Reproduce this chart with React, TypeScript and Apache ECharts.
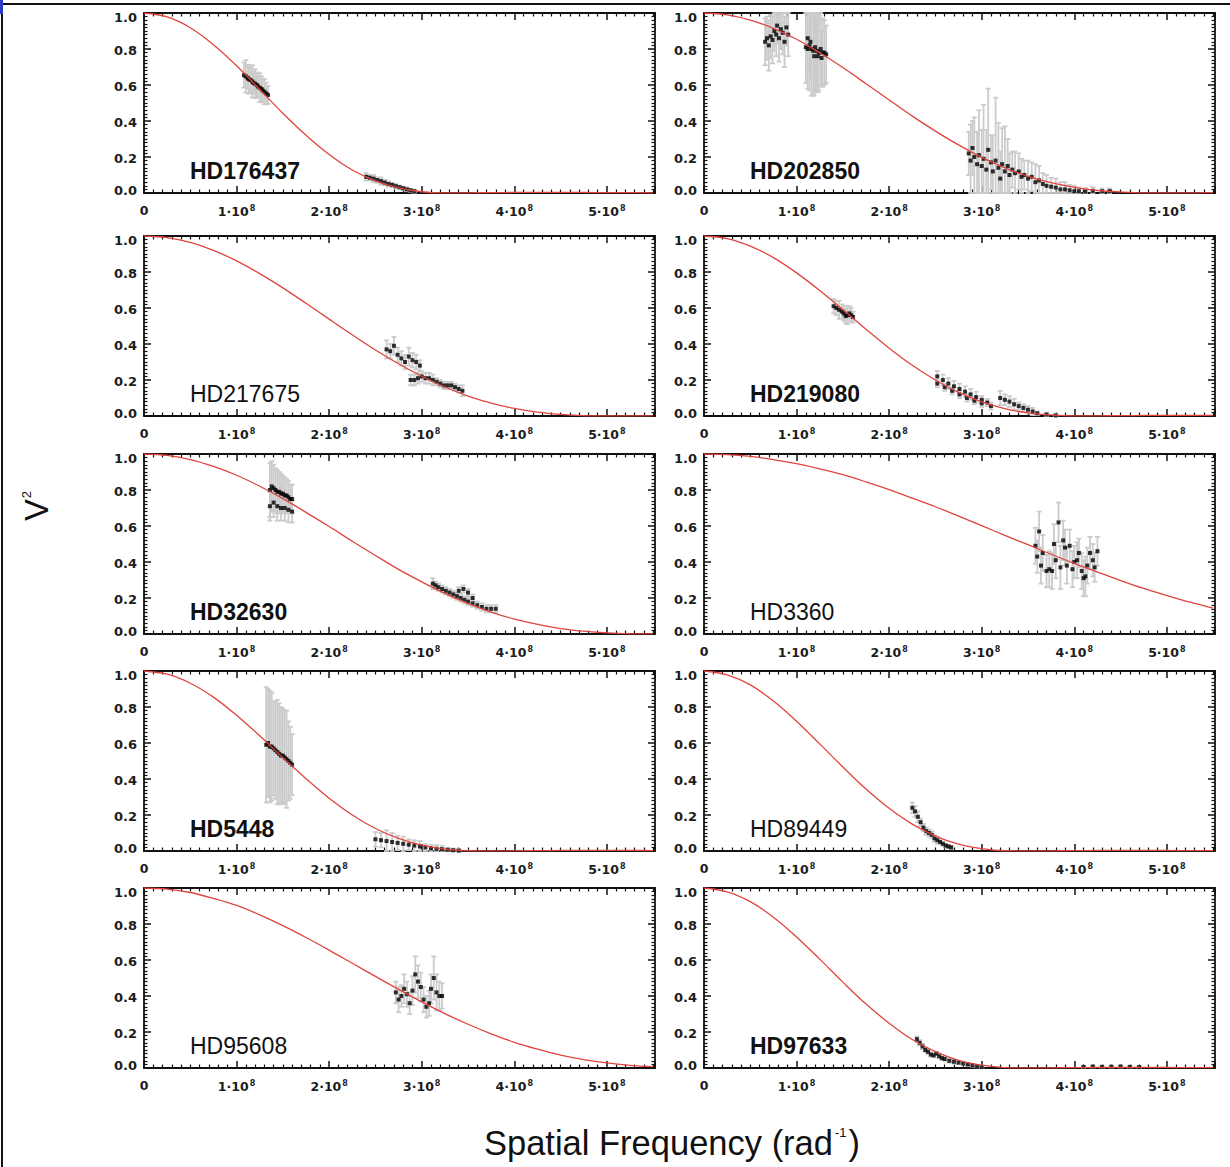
import React, { useEffect, useRef } from "react";
import * as echarts from "echarts";

// Spatial frequencies are in units of 1e8 rad^-1 throughout.
const FREQ_GRID = [0, 0.25, 0.5, 0.75, 1, 1.25, 1.5, 1.75, 2, 2.25, 2.5, 2.75, 3, 3.25, 3.5, 3.75, 4, 4.25, 4.5, 4.75, 5, 5.25, 5.5];
const X_TICK_LABELS = ["0", "1", "2", "3", "4", "5"];
const Y_TICKS = [0, 0.2, 0.4, 0.6, 0.8, 1.0];

// ---- fitted disk model curves (V^2 on FREQ_GRID) ----
const HD176437_MODEL = [1, 0.978, 0.918, 0.824, 0.707, 0.575, 0.443, 0.321, 0.214, 0.128, 0.067, 0.028, 0.007, 0.0005, 0.001, 0.002, 0.003, 0.003, 0.003, 0.003, 0.002, 0.002, 0.001];
const HD202850_MODEL = [1, 0.99, 0.961, 0.915, 0.854, 0.779, 0.697, 0.607, 0.517, 0.427, 0.344, 0.267, 0.198, 0.14, 0.093, 0.057, 0.031, 0.014, 0.0055, 0.001, 0.001, 0.001, 0.002];
const HD217675_MODEL = [1, 0.991, 0.964, 0.92, 0.862, 0.791, 0.712, 0.626, 0.538, 0.451, 0.367, 0.29, 0.221, 0.161, 0.111, 0.072, 0.042, 0.021, 0.0085, 0.0019, 0.0002, 0.0005, 0.001];
const HD219080_MODEL = [1, 0.986, 0.944, 0.88, 0.795, 0.697, 0.591, 0.482, 0.377, 0.282, 0.2, 0.131, 0.079, 0.041, 0.017, 0.0057, 0.0005, 0.001, 0.002, 0.003, 0.003, 0.003, 0.003];
const HD32630_MODEL = [1, 0.992, 0.969, 0.931, 0.882, 0.821, 0.752, 0.676, 0.597, 0.515, 0.436, 0.359, 0.29, 0.226, 0.17, 0.122, 0.083, 0.054, 0.03, 0.0155, 0.006, 0.0012, 0.0002];
const HD3360_MODEL = [1, 0.997, 0.987, 0.969, 0.946, 0.918, 0.885, 0.845, 0.802, 0.755, 0.707, 0.655, 0.602, 0.548, 0.496, 0.443, 0.392, 0.344, 0.297, 0.253, 0.214, 0.177, 0.144];
const HD5448_MODEL = [1, 0.982, 0.932, 0.855, 0.754, 0.64, 0.519, 0.402, 0.293, 0.2, 0.125, 0.07, 0.032, 0.01, 0.0015, 0.0005, 0.001, 0.002, 0.003, 0.003, 0.003, 0.003, 0.002];
const HD89449_MODEL = [1, 0.979, 0.923, 0.833, 0.721, 0.595, 0.467, 0.344, 0.237, 0.149, 0.083, 0.038, 0.013, 0.0015, 0.0005, 0.001, 0.002, 0.003, 0.003, 0.003, 0.003, 0.002, 0.002];
const HD95608_MODEL = [1, 0.994, 0.975, 0.942, 0.903, 0.851, 0.791, 0.725, 0.655, 0.582, 0.509, 0.437, 0.367, 0.302, 0.243, 0.19, 0.143, 0.105, 0.072, 0.047, 0.028, 0.015, 0.0065];
const HD97633_MODEL = [1, 0.979, 0.924, 0.838, 0.728, 0.605, 0.477, 0.355, 0.249, 0.158, 0.091, 0.043, 0.016, 0.0025, 0.0005, 0.001, 0.002, 0.003, 0.003, 0.003, 0.003, 0.002, 0.002];

// ---- measured squared visibilities ----
const HD176437_FREQ = [1.08, 1.1, 1.12, 1.13, 1.15, 1.17, 1.18, 1.2, 1.22, 1.23, 1.25, 1.27, 1.28, 1.3, 1.32, 1.34, 2.4, 2.44, 2.48, 2.52, 2.56, 2.6, 2.64, 2.68, 2.72, 2.76, 2.8, 2.84, 2.88, 2.92];
const HD176437_VIS2 = [0.655, 0.648, 0.64, 0.632, 0.628, 0.62, 0.612, 0.607, 0.6, 0.592, 0.585, 0.578, 0.57, 0.563, 0.553, 0.545, 0.09, 0.085, 0.08, 0.072, 0.066, 0.058, 0.05, 0.045, 0.038, 0.032, 0.026, 0.02, 0.015, 0.01];
const HD176437_ERR = [0.07, 0.09, 0.06, 0.08, 0.07, 0.09, 0.06, 0.08, 0.07, 0.06, 0.08, 0.07, 0.06, 0.07, 0.06, 0.05, 0.02, 0.015, 0.02, 0.015, 0.02, 0.015, 0.015, 0.012, 0.012, 0.01, 0.01, 0.01, 0.008, 0.008];

const HD202850_FREQ = [0.66, 0.68, 0.7, 0.72, 0.74, 0.76, 0.78, 0.79, 0.81, 0.83, 0.85, 0.87, 0.89, 0.91, 1.1, 1.12, 1.14, 1.16, 1.18, 1.2, 1.22, 1.24, 1.26, 1.28, 1.3, 1.32, 1.12, 1.15, 1.19, 1.23, 1.27, 2.86, 2.88, 2.9, 2.92, 2.95, 2.97, 3.0, 3.02, 3.05, 3.07, 3.1, 3.12, 3.15, 3.18, 3.2, 3.22, 3.25, 3.28, 3.3, 3.33, 3.36, 3.4, 3.43, 3.46, 3.5, 3.54, 3.58, 3.62, 3.66, 3.7, 3.75, 3.8, 3.85, 3.9, 3.95, 4.0, 4.05, 4.12, 4.2, 4.3, 4.38];
const HD202850_VIS2 = [0.84, 0.86, 0.82, 0.87, 0.85, 0.9, 0.88, 0.93, 0.86, 0.91, 0.89, 0.84, 0.92, 0.88, 0.81, 0.8, 0.82, 0.8, 0.79, 0.81, 0.79, 0.78, 0.8, 0.78, 0.78, 0.77, 0.86, 0.84, 0.76, 0.76, 0.75, 0.22, 0.18, 0.25, 0.2, 0.16, 0.21, 0.15, 0.19, 0.13, 0.24, 0.17, 0.12, 0.18, 0.14, 0.08, 0.16, 0.12, 0.15, 0.1, 0.13, 0.11, 0.12, 0.09, 0.1, 0.08, 0.09, 0.06, 0.07, 0.05, 0.04, 0.035, 0.03, 0.02, 0.02, 0.015, 0.01, 0.01, 0.008, 0.012, 0.01, 0.01];
const HD202850_ERR = [0.13, 0.12, 0.14, 0.12, 0.13, 0.11, 0.12, 0.1, 0.13, 0.11, 0.12, 0.14, 0.1, 0.12, 0.2, 0.22, 0.25, 0.26, 0.24, 0.25, 0.22, 0.21, 0.2, 0.19, 0.18, 0.16, 0.18, 0.2, 0.22, 0.2, 0.15, 0.12, 0.2, 0.15, 0.22, 0.18, 0.25, 0.2, 0.3, 0.22, 0.34, 0.15, 0.2, 0.35, 0.25, 0.15, 0.2, 0.25, 0.15, 0.12, 0.1, 0.12, 0.1, 0.1, 0.08, 0.1, 0.08, 0.1, 0.08, 0.06, 0.06, 0.05, 0.05, 0.04, 0.04, 0.03, 0.03, 0.02, 0.02, 0.02, 0.015, 0.015];

const HD217675_FREQ = [2.62, 2.66, 2.7, 2.74, 2.78, 2.82, 2.86, 2.9, 2.94, 2.98, 2.88, 2.92, 2.96, 3.0, 3.04, 3.08, 3.12, 3.16, 3.2, 3.24, 3.28, 3.32, 3.36, 3.4, 3.44];
const HD217675_VIS2 = [0.37, 0.36, 0.39, 0.34, 0.32, 0.3, 0.33, 0.31, 0.3, 0.28, 0.2, 0.2, 0.21, 0.22, 0.21, 0.21, 0.2, 0.19, 0.18, 0.17, 0.17, 0.17, 0.16, 0.15, 0.14];
const HD217675_ERR = [0.05, 0.04, 0.05, 0.04, 0.04, 0.04, 0.05, 0.04, 0.04, 0.03, 0.03, 0.03, 0.03, 0.03, 0.03, 0.03, 0.03, 0.02, 0.02, 0.02, 0.02, 0.02, 0.02, 0.02, 0.03];

const HD219080_FREQ = [1.4, 1.43, 1.46, 1.49, 1.51, 1.53, 1.55, 1.57, 1.59, 1.61, 2.52, 2.58, 2.64, 2.7, 2.76, 2.82, 2.88, 2.94, 3.0, 3.06, 2.52, 2.6, 2.68, 2.76, 2.84, 2.92, 3.0, 3.1, 3.2, 3.25, 3.3, 3.35, 3.4, 3.45, 3.5, 3.55, 3.6, 3.7, 3.8];
const HD219080_VIS2 = [0.61, 0.6, 0.59, 0.58, 0.57, 0.555, 0.56, 0.57, 0.56, 0.55, 0.22, 0.2, 0.18, 0.165, 0.15, 0.135, 0.12, 0.105, 0.09, 0.075, 0.18, 0.16, 0.14, 0.12, 0.1, 0.085, 0.07, 0.055, 0.1, 0.09, 0.08, 0.065, 0.055, 0.045, 0.035, 0.025, 0.015, 0.008, 0.003];
const HD219080_ERR = [0.04, 0.04, 0.05, 0.04, 0.04, 0.04, 0.05, 0.04, 0.04, 0.03, 0.03, 0.03, 0.03, 0.03, 0.03, 0.03, 0.03, 0.03, 0.02, 0.02, 0.02, 0.02, 0.02, 0.02, 0.02, 0.02, 0.02, 0.02, 0.04, 0.03, 0.03, 0.03, 0.02, 0.02, 0.02, 0.02, 0.01, 0.01, 0.01];

const HD32630_FREQ = [1.36, 1.38, 1.4, 1.42, 1.44, 1.46, 1.48, 1.5, 1.52, 1.54, 1.56, 1.58, 1.6, 1.36, 1.4, 1.44, 1.48, 1.52, 1.56, 1.6, 3.12, 3.15, 3.18, 3.22, 3.26, 3.3, 3.34, 3.38, 3.42, 3.46, 3.5, 3.55, 3.6, 3.65, 3.7, 3.75, 3.8, 3.4, 3.45, 3.5, 3.55];
const HD32630_VIS2 = [0.8, 0.82, 0.81, 0.8, 0.79, 0.79, 0.78, 0.78, 0.77, 0.77, 0.76, 0.75, 0.75, 0.71, 0.73, 0.71, 0.7, 0.7, 0.69, 0.68, 0.28, 0.27, 0.26, 0.25, 0.24, 0.23, 0.22, 0.21, 0.2, 0.19, 0.18, 0.17, 0.16, 0.15, 0.14, 0.14, 0.14, 0.24, 0.25, 0.23, 0.2];
const HD32630_ERR = [0.15, 0.14, 0.13, 0.12, 0.12, 0.11, 0.11, 0.1, 0.1, 0.09, 0.09, 0.08, 0.08, 0.08, 0.08, 0.08, 0.07, 0.07, 0.07, 0.06, 0.03, 0.02, 0.02, 0.02, 0.02, 0.02, 0.02, 0.02, 0.02, 0.02, 0.02, 0.02, 0.02, 0.02, 0.02, 0.02, 0.02, 0.02, 0.02, 0.02, 0.02];

const HD3360_FREQ = [3.58, 3.6, 3.62, 3.64, 3.66, 3.7, 3.73, 3.76, 3.78, 3.8, 3.83, 3.85, 3.88, 3.9, 3.92, 3.95, 3.98, 4.0, 4.03, 4.05, 4.08, 4.1, 4.12, 4.14, 4.17, 4.2, 4.22, 4.25];
const HD3360_VIS2 = [0.49, 0.43, 0.57, 0.38, 0.45, 0.35, 0.36, 0.35, 0.5, 0.41, 0.62, 0.37, 0.52, 0.48, 0.38, 0.49, 0.36, 0.4, 0.41, 0.45, 0.35, 0.31, 0.32, 0.38, 0.45, 0.41, 0.37, 0.46];
const HD3360_ERR = [0.1, 0.09, 0.11, 0.1, 0.1, 0.09, 0.1, 0.1, 0.11, 0.1, 0.11, 0.12, 0.11, 0.1, 0.1, 0.09, 0.1, 0.09, 0.1, 0.08, 0.1, 0.1, 0.11, 0.1, 0.09, 0.09, 0.08, 0.08];

const HD5448_FREQ = [1.32, 1.34, 1.36, 1.38, 1.4, 1.42, 1.44, 1.46, 1.48, 1.5, 1.52, 1.54, 1.56, 1.58, 1.6, 2.5, 2.56, 2.62, 2.68, 2.74, 2.8, 2.86, 2.92, 2.98, 3.04, 3.1, 3.16, 3.22, 3.28, 3.34, 3.4];
const HD5448_VIS2 = [0.59, 0.6, 0.58, 0.58, 0.57, 0.56, 0.55, 0.54, 0.53, 0.53, 0.52, 0.51, 0.5, 0.49, 0.48, 0.065, 0.06, 0.055, 0.05, 0.045, 0.04, 0.035, 0.03, 0.025, 0.02, 0.015, 0.012, 0.01, 0.007, 0.004, 0.002];
const HD5448_ERR = [0.32, 0.3, 0.31, 0.3, 0.26, 0.27, 0.29, 0.28, 0.27, 0.26, 0.26, 0.27, 0.22, 0.2, 0.17, 0.04, 0.04, 0.06, 0.05, 0.04, 0.04, 0.03, 0.03, 0.03, 0.02, 0.02, 0.02, 0.02, 0.01, 0.01, 0.01];

const HD89449_FREQ = [2.25, 2.28, 2.31, 2.34, 2.37, 2.4, 2.43, 2.46, 2.49, 2.52, 2.55, 2.58, 2.61, 2.64, 2.67];
const HD89449_VIS2 = [0.24, 0.22, 0.19, 0.16, 0.13, 0.11, 0.1, 0.09, 0.07, 0.06, 0.05, 0.04, 0.03, 0.025, 0.02];
const HD89449_ERR = [0.03, 0.03, 0.03, 0.02, 0.02, 0.02, 0.02, 0.02, 0.02, 0.02, 0.01, 0.01, 0.01, 0.01, 0.01];

const HD95608_FREQ = [2.72, 2.75, 2.78, 2.81, 2.84, 2.87, 2.9, 2.93, 2.96, 2.99, 3.02, 3.05, 3.08, 3.1, 3.13, 3.16, 3.19, 3.22];
const HD95608_VIS2 = [0.42, 0.38, 0.4, 0.44, 0.41, 0.36, 0.43, 0.52, 0.48, 0.45, 0.38, 0.34, 0.36, 0.44, 0.5, 0.42, 0.4, 0.4];
const HD95608_ERR = [0.06, 0.07, 0.06, 0.08, 0.07, 0.06, 0.08, 0.1, 0.09, 0.08, 0.07, 0.06, 0.07, 0.08, 0.12, 0.1, 0.08, 0.07];

const HD97633_FREQ = [2.3, 2.33, 2.36, 2.39, 2.42, 2.45, 2.48, 2.51, 2.54, 2.57, 2.6, 2.65, 2.7, 2.75, 2.8, 2.85, 2.9, 2.95, 3.0, 4.1, 4.2, 4.3, 4.4, 4.5, 4.6, 4.7];
const HD97633_VIS2 = [0.16, 0.14, 0.12, 0.1, 0.09, 0.075, 0.07, 0.08, 0.065, 0.055, 0.05, 0.04, 0.035, 0.03, 0.025, 0.02, 0.015, 0.01, 0.005, 0.006, 0.008, 0.006, 0.007, 0.008, 0.006, 0.005];
const HD97633_ERR = [0.015, 0.015, 0.015, 0.012, 0.012, 0.012, 0.01, 0.01, 0.01, 0.01, 0.01, 0.01, 0.01, 0.008, 0.008, 0.008, 0.008, 0.006, 0.006, 0.006, 0.006, 0.006, 0.006, 0.006, 0.006, 0.006];

const STAR_NAMES = ["HD176437", "HD202850", "HD217675", "HD219080", "HD32630", "HD3360", "HD5448", "HD89449", "HD95608", "HD97633"];
const BOLD_NAMES = ["HD176437", "HD202850", "HD219080", "HD32630", "HD5448", "HD97633"];

const STARS = [
  { freq: HD176437_FREQ, vis2: HD176437_VIS2, err: HD176437_ERR, model: HD176437_MODEL },
  { freq: HD202850_FREQ, vis2: HD202850_VIS2, err: HD202850_ERR, model: HD202850_MODEL },
  { freq: HD217675_FREQ, vis2: HD217675_VIS2, err: HD217675_ERR, model: HD217675_MODEL },
  { freq: HD219080_FREQ, vis2: HD219080_VIS2, err: HD219080_ERR, model: HD219080_MODEL },
  { freq: HD32630_FREQ, vis2: HD32630_VIS2, err: HD32630_ERR, model: HD32630_MODEL },
  { freq: HD3360_FREQ, vis2: HD3360_VIS2, err: HD3360_ERR, model: HD3360_MODEL },
  { freq: HD5448_FREQ, vis2: HD5448_VIS2, err: HD5448_ERR, model: HD5448_MODEL },
  { freq: HD89449_FREQ, vis2: HD89449_VIS2, err: HD89449_ERR, model: HD89449_MODEL },
  { freq: HD95608_FREQ, vis2: HD95608_VIS2, err: HD95608_ERR, model: HD95608_MODEL },
  { freq: HD97633_FREQ, vis2: HD97633_VIS2, err: HD97633_ERR, model: HD97633_MODEL },
];

// ---- layout ----
const WIDTH = 1230;
const HEIGHT = 1167;
const PANEL_LEFT = [144, 704];
const PANEL_TOP = [13, 236, 454, 671, 888];
const PANEL_W = 511;
const PANEL_H = 180;
const X_MAX = 5.52;

const LABEL_FONT = '"Liberation Sans", Arial, Helvetica, sans-serif';
const TICK_FONT = '"DejaVu Sans", sans-serif';
const INK = "#111";
const CURVE_RED = "#e0443e";
const ERR_GREY = "#cbcbcb";

const axisLine = { show: true, onZero: false, lineStyle: { color: INK, width: 1.8 } };
const axisTick = { show: true, inside: true, length: 7, lineStyle: { color: INK, width: 1.5 } };
const minorTick = { show: true, splitNumber: 10, length: 3.5, lineStyle: { color: INK, width: 1.2 } };

const tickText = { fontFamily: TICK_FONT, fontWeight: "bold", fontSize: 13, color: "#1c1c1c" };

function xLabel(v: number): string {
  const idx = Math.round(v);
  if (Math.abs(v - idx) > 1e-6 || idx < 0 || idx >= X_TICK_LABELS.length) return "";
  if (idx === 0) return "{m|0}";
  return `{m|${X_TICK_LABELS[idx]}·10}{e|8}`;
}

// end labels are kept inside the axis span: top one nudged down, bottom one up
function yLabel(v: number): string {
  const hit = Y_TICKS.find((t) => Math.abs(t - v) < 1e-6);
  if (hit === undefined) return "";
  const txt = hit.toFixed(1);
  if (hit === Y_TICKS[Y_TICKS.length - 1]) return `{top|${txt}}`;
  if (hit === Y_TICKS[0]) return `{bot|${txt}}`;
  return `{mid|${txt}}`;
}

function buildOption() {
  const grid: any[] = [];
  const xAxis: any[] = [];
  const yAxis: any[] = [];
  const series: any[] = [];
  const graphic: any[] = [];

  STARS.forEach((s, i) => {
    const col = i % 2;
    const row = Math.floor(i / 2);
    const left = PANEL_LEFT[col];
    const top = PANEL_TOP[row];
    grid.push({ left, top, width: PANEL_W, height: PANEL_H, containLabel: false });

    xAxis.push({
      type: "value", gridIndex: i, position: "bottom", min: 0, max: X_MAX, interval: 1,
      axisLine, axisTick, minorTick, splitLine: { show: false }, minorSplitLine: { show: false },
      axisLabel: {
        show: true, margin: 11, formatter: xLabel, showMaxLabel: false,
        rich: {
          m: { ...tickText, fontSize: 12.5 },
          e: { ...tickText, fontSize: 8, verticalAlign: "top", padding: [0, 0, 7, 1] },
        },
      },
    });
    xAxis.push({
      type: "value", gridIndex: i, position: "top", min: 0, max: X_MAX, interval: 1,
      axisLine, axisTick, minorTick, splitLine: { show: false }, axisLabel: { show: false },
    });
    yAxis.push({
      type: "value", gridIndex: i, position: "left", min: 0, max: 1, interval: 0.2,
      axisLine, axisTick, minorTick, splitLine: { show: false },
      axisLabel: {
        show: true, margin: 7, formatter: yLabel,
        rich: {
          top: { ...tickText, padding: [9, 0, 0, 0] },
          mid: { ...tickText, padding: [2, 0, 0, 0] },
          bot: { ...tickText, padding: [0, 0, 5, 0] },
        },
      },
    });
    yAxis.push({
      type: "value", gridIndex: i, position: "right", min: 0, max: 1, interval: 0.2,
      axisLine, axisTick, minorTick, splitLine: { show: false }, axisLabel: { show: false },
    });

    const xi = 2 * i;
    const yi = 2 * i;

    series.push({
      type: "custom", xAxisIndex: xi, yAxisIndex: yi, silent: true, z: 1,
      encode: { x: 0, y: 1 },
      data: s.freq.map((f, k) => [f, s.vis2[k], s.err[k]]),
      renderItem: (_p: any, api: any) => {
        const x = api.value(0);
        const y = api.value(1);
        const e = api.value(2);
        const hi = api.coord([x, Math.min(1, y + e)]);
        const lo = api.coord([x, Math.max(0, y - e)]);
        const st = { stroke: ERR_GREY, lineWidth: 1.8 };
        return {
          type: "group",
          children: [
            { type: "line", shape: { x1: hi[0], y1: hi[1], x2: lo[0], y2: lo[1] }, style: st },
            { type: "line", shape: { x1: hi[0] - 2.5, y1: hi[1], x2: hi[0] + 2.5, y2: hi[1] }, style: st },
            { type: "line", shape: { x1: lo[0] - 2.5, y1: lo[1], x2: lo[0] + 2.5, y2: lo[1] }, style: st },
          ],
        };
      },
    });
    series.push({
      type: "scatter", xAxisIndex: xi, yAxisIndex: yi, z: 2, silent: true,
      symbol: "rect", symbolSize: 4,
      itemStyle: { color: "#000" },
      data: s.freq.map((f, k) => [f, s.vis2[k]]),
    });
    series.push({
      type: "line", xAxisIndex: xi, yAxisIndex: yi, z: 3, silent: true,
      symbol: "none", smooth: 0.35,
      lineStyle: { color: CURVE_RED, width: 1.3 },
      data: FREQ_GRID.map((f, k) => [f, s.model[k]]),
    });

    const name = STAR_NAMES[i];
    graphic.push({
      type: "text", x: left + 46, y: top + PANEL_H - 22, z: 10,
      style: {
        text: name, fontFamily: LABEL_FONT, fontSize: 23,
        fontWeight: BOLD_NAMES.includes(name) ? "bold" : "normal",
        fill: "#111", verticalAlign: "middle", align: "left",
      },
    });
  });

  // figure frame and axis titles
  graphic.push(
    { type: "line", shape: { x1: 0, y1: 4, x2: WIDTH, y2: 4 }, style: { stroke: "#111", lineWidth: 2 }, z: 20 },
    { type: "line", shape: { x1: 2, y1: 0, x2: 2, y2: HEIGHT }, style: { stroke: "#111", lineWidth: 2 }, z: 20 },
    { type: "rect", shape: { x: 0, y: 0, width: 3, height: 14 }, style: { fill: "#2b3bc4" }, z: 21 },
    {
      type: "text", x: 36, y: 506, rotation: Math.PI / 2, z: 20,
      style: {
        text: "{v|V}{s|2}", align: "center", verticalAlign: "middle",
        rich: {
          v: { fontFamily: LABEL_FONT, fontSize: 33, fill: "#111" },
          s: { fontFamily: LABEL_FONT, fontSize: 13, fill: "#111", verticalAlign: "top", padding: [0, 0, 18, 1] },
        },
      },
    },
    {
      type: "text", x: 672, y: 1143, z: 20,
      style: {
        text: "{t|Spatial Frequency (rad}{s|-1}{t|)}", align: "center", verticalAlign: "middle",
        rich: {
          t: { fontFamily: LABEL_FONT, fontSize: 34.5, fill: "#111" },
          s: { fontFamily: LABEL_FONT, fontSize: 13, fill: "#111", verticalAlign: "top", padding: [0, 2, 18, 2] },
        },
      },
    }
  );

  return {
    animation: false,
    backgroundColor: "#ffffff",
    grid, xAxis, yAxis, series, graphic,
  };
}

export default function App() {
  const ref = useRef<HTMLDivElement>(null);
  useEffect(() => {
    if (!ref.current) return;
    const chart = echarts.init(ref.current, undefined, { renderer: "svg" });
    chart.setOption(buildOption() as any);
    return () => chart.dispose();
  }, []);
  return (
    <div
      ref={ref}
      style={{ position: "absolute", left: 0, top: 0, width: WIDTH, height: HEIGHT, background: "#fff" }}
    />
  );
}
